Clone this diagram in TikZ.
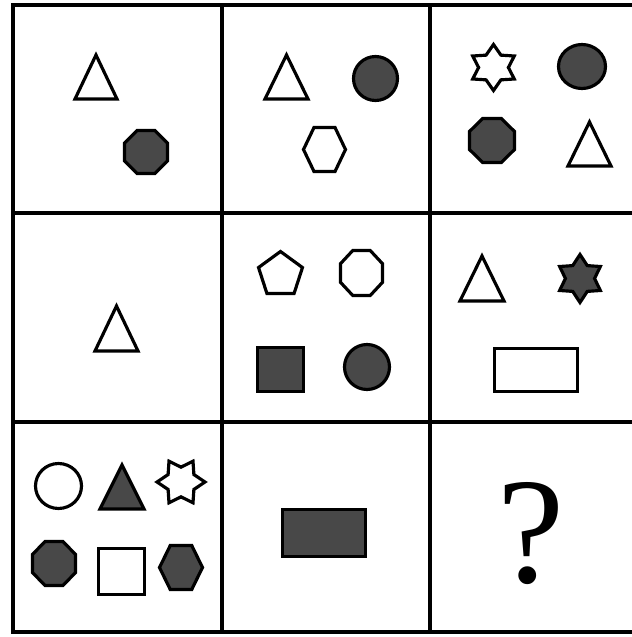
\documentclass[tikz,border=0pt]{standalone}
\usepackage{fontspec}
\setmainfont{Liberation Serif}
\usepackage{tikz}
\definecolor{shapegray}{RGB}{72, 72, 72}

\tikzset{
    gridline/.style={line width=2pt, draw=black},
    openshape/.style={draw=black, fill=white, line width=1.8pt, line join=miter},
    darkshape/.style={draw=black, fill=shapegray, line width=1.8pt, line join=miter},
    tri/.pic={\path[pic actions] (-1,-1) -- (0,1) -- (1,-1) -- cycle;},
    oval/.pic={\path[pic actions] (0,0) circle [radius=1];},
    box/.pic={\path[pic actions] (-1,-1) rectangle (1,1);},
    penta/.pic={\path[pic actions] (90:1) -- (162:1) -- (234:1) -- (306:1) -- (18:1) -- cycle;},
    hexa/.pic={\path[pic actions] (0:1) -- (60:1) -- (120:1) -- (180:1) -- (240:1) -- (300:1) -- cycle;},
    octa/.pic={\path[pic actions] (22.5:1) -- (67.5:1) -- (112.5:1) -- (157.5:1)
        -- (202.5:1) -- (247.5:1) -- (292.5:1) -- (337.5:1) -- cycle;},
    hexstar/.pic={\path[pic actions] (90:1) -- (120:0.62) -- (150:1) -- (180:0.62)
        -- (210:1) -- (240:0.62) -- (270:1) -- (300:0.62) -- (330:1) -- (0:0.62)
        -- (30:1) -- (60:0.62) -- cycle;}
}

\begin{document}
\begin{tikzpicture}[x=0.02cm, y=0.02cm]
    \useasboundingbox (0,0) rectangle (632,637);

    % grid
    \draw[gridline] (13,5) rectangle (640,632);
    \foreach \gx in {222,430} \draw[gridline] (\gx,5) -- (\gx,632);
    \foreach \gy in {215,424} \draw[gridline] (13,\gy) -- (640,\gy);

    % row 1
    \pic[openshape, xscale=21, yscale=22] at (96,560) {tri};
    \pic[darkshape, xscale=23.3, yscale=23.3] at (146,485) {octa};

    \pic[openshape, xscale=21.5, yscale=22] at (286.5,560) {tri};
    \pic[darkshape, xscale=22, yscale=22] at (375.5,558.5) {oval};
    \pic[openshape, xscale=21, yscale=25.4] at (324.5,487.5) {hexa};

    \pic[openshape, xscale=24, yscale=23] at (493.5,569.5) {hexstar};
    \pic[darkshape, xscale=23.5, yscale=22] at (582,570.5) {oval};
    \pic[darkshape, xscale=24.3, yscale=23.8] at (492,496.5) {octa};
    \pic[openshape, xscale=21.5, yscale=22] at (589.5,493) {tri};

    % row 2
    \pic[openshape, xscale=21.5, yscale=22.5] at (116.5,308.5) {tri};

    \pic[openshape, xscale=23.1, yscale=23.2] at (280.5,362.3) {penta};
    \pic[openshape, xscale=22.7, yscale=24.4] at (361.5,364) {octa};
    \pic[darkshape, xscale=23, yscale=22] at (280.5,267.5) {box};
    \pic[darkshape, xscale=22.5, yscale=22.5] at (367,270) {oval};

    \pic[openshape, xscale=22, yscale=22.5] at (482,358.5) {tri};
    \pic[darkshape, xscale=23.5, yscale=24] at (580,358.5) {hexstar};
    \pic[openshape, xscale=41.5, yscale=21.5] at (536,267) {box};

    % row 3
    \pic[openshape, xscale=23, yscale=22.5] at (58.5,151) {oval};
    \pic[darkshape, xscale=22, yscale=22] at (122,150) {tri};
    \pic[openshape, rotate=90, xscale=24, yscale=24] at (181,155) {hexstar};
    \pic[darkshape, xscale=23.3, yscale=23.8] at (54,73.5) {octa};
    \pic[openshape, xscale=23, yscale=23] at (121.5,65.5) {box};
    \pic[darkshape, xscale=21.5, yscale=25.4] at (181,69.5) {hexa};

    \pic[darkshape, xscale=41.5, yscale=23.5] at (324,104) {box};

    \node[anchor=base, inner sep=0pt, font=\fontsize{86}{90}\selectfont] (ask) at (531,54) {?};
\end{tikzpicture}
\end{document}
